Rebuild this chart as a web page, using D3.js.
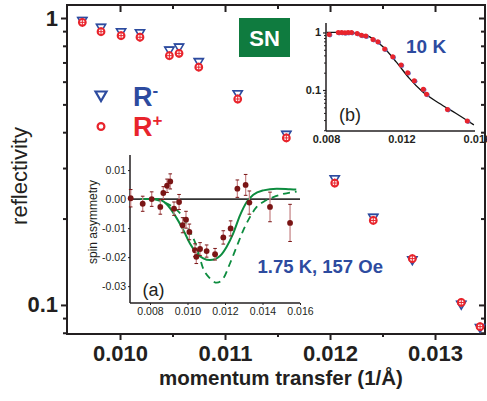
<!DOCTYPE html>
<html><head><meta charset="utf-8">
<script src="https://cdn.jsdelivr.net/npm/d3@7"></script>
<style>body{margin:0;background:#fff;} svg{display:block;font-family:"Liberation Sans",Arial,sans-serif;}</style>
</head><body><svg id="c" width="487" height="401"></svg>
<script>
// ---- main panel data (SN) ----
const q = [0.009641,0.009819,0.010010,0.010190,0.010470,0.010562,0.010750,0.011121,0.011584,0.012045,0.012412,0.012784,0.013250,0.013429];
const rMinus = [0.976,0.923,0.891,0.884,0.769,0.788,0.701,0.542,0.391,0.274,0.201,0.143,0.100,0.083];
const rPlus  = [0.966,0.896,0.868,0.857,0.739,0.753,0.674,0.522,0.382,0.266,0.197,0.145,0.102,0.084];
const mainXTicks = [0.010,0.011,0.012,0.013];
const mainXMinor = [0.0105,0.0115,0.0125];
const mainYTicks = [1,0.1];
const mainYMinor = [0.08,0.09,0.2,0.3,0.4,0.5,0.6,0.7,0.8,0.9];
const mainYLabels = ["1","0.1"];

// ---- inset (b) data, 10 K ----
const bQ = [0.00817,0.00865,0.00883,0.00900,0.00917,0.00935,0.00965,0.00988,0.01011,0.01049,0.01075,0.01111,0.01154,0.01198,0.01233,0.01268,0.01316,0.01333,0.01444,0.01549];
const bR = [0.923,1.0,1.0,0.987,1.0,1.0,0.96,0.89,0.864,0.756,0.687,0.514,0.378,0.271,0.2,0.145,0.103,0.084,0.046,0.029];
const bFitQ = [0.00804,0.0089,0.00962,0.01032,0.01102,0.01172,0.01242,0.01312,0.01400,0.01488,0.01584];
const bFitR = [1.0,1.0,0.96,0.839,0.563,0.309,0.159,0.093,0.059,0.0395,0.0248];
const bXTicks = [0.008,0.012,0.016];
const bYTicks = [1,0.1];
const bYLabels = ["1","0.1"];

// ---- inset (a) data, spin asymmetry at 1.75 K, 157 Oe ----
const aQ = [0.00697,0.00761,0.00809,0.00855,0.00871,0.00891,0.00908,0.00928,0.00955,0.00974,0.00992,0.01010,0.01040,0.01047,0.01067,0.01102,0.01147,0.01191,0.01230,0.01266,0.01310,0.01330,0.01440,0.01547];
const aSA = [0.0003,-0.0016,0.0,-0.0027,0.0021,0.0046,0.0061,-0.0033,-0.001,-0.009,-0.0071,-0.0113,-0.0176,-0.0199,-0.0172,-0.0179,-0.019,-0.0132,-0.0101,0.0036,0.0049,-0.0012,-0.0027,-0.0082];
const aErr = [0.003,0.0026,0.0025,0.0025,0.0022,0.0023,0.0026,0.0023,0.0026,0.0026,0.0029,0.0027,0.0022,0.0023,0.0022,0.0021,0.002,0.0023,0.0026,0.003,0.0036,0.004,0.0051,0.0064];
const fitSolidQ = [0.0075,0.00836,0.00889,0.00933,0.00978,0.01013,0.01049,0.01084,0.0112,0.01173,0.01209,0.01244,0.0128,0.01316,0.01351,0.01404,0.01476,0.01547,0.0158];
const fitSolidSA = [0,0,-0.0018,-0.0056,-0.0107,-0.0153,-0.0187,-0.0204,-0.021,-0.0196,-0.0164,-0.0118,-0.0056,-0.001,0.0015,0.003,0.0036,0.0034,0.0033];
const fitDashQ = [0.00818,0.00916,0.00969,0.0101,0.01049,0.01084,0.0112,0.01156,0.01191,0.01227,0.01262,0.01298,0.01333,0.01369,0.01404,0.01458,0.01511,0.01582];
const fitDashSA = [0,-0.0025,-0.0056,-0.0107,-0.0164,-0.0240,-0.0273,-0.0288,-0.0273,-0.0221,-0.0164,-0.0107,-0.0062,-0.0027,-0.001,0.0007,0.0018,0.0026];
const aXTicks = [0.008,0.010,0.012,0.014,0.016];
const aYTicks = [0.01,0,-0.01,-0.02,-0.03];
const aYLabels = ["0.01","0.00","-0.01","-0.02","-0.03"];

const BLUE="#2d4b9f", RED="#e8242c", GREEN="#0d8c3f", DARK="#7a1515", PINK="#c98a8c", INK="#231f20";
const svg = d3.select("#c");

// ================= MAIN PANEL =================
const M = {l:67, r:485, t:5, b:334};
const x = d3.scaleLinear().domain([0.009495, 0.013476]).range([M.l, M.r]);
const y = d3.scaleLog().domain([0.0792, 1.110]).range([M.b, M.t]);

function styleAxis(g, w){ g.select(".domain").remove(); g.selectAll("line").attr("stroke",INK).attr("stroke-width",w); }
const fmt3 = d3.format(".3f");
// bottom
let g = svg.append("g").attr("transform",`translate(0,${M.b})`).call(d3.axisBottom(x).tickValues(mainXTicks).tickSize(6).tickPadding(5).tickFormat(fmt3));
styleAxis(g,2); g.selectAll("text").attr("font-size",22).attr("font-weight","bold").attr("fill",INK);
g = svg.append("g").attr("transform",`translate(0,${M.b})`).call(d3.axisBottom(x).tickValues(mainXMinor).tickSize(3).tickFormat(""));
styleAxis(g,2);
// top (inward)
g = svg.append("g").attr("transform",`translate(0,${M.t})`).call(d3.axisBottom(x).tickValues(mainXTicks).tickSize(7).tickFormat(""));
styleAxis(g,2);
g = svg.append("g").attr("transform",`translate(0,${M.t})`).call(d3.axisBottom(x).tickValues(mainXMinor).tickSize(4).tickFormat(""));
styleAxis(g,2);
// left
g = svg.append("g").attr("transform",`translate(${M.l},0)`).call(d3.axisLeft(y).tickValues(mainYTicks).tickSize(6).tickPadding(3).tickFormat((d,i)=>mainYLabels[i]));
styleAxis(g,2); g.selectAll("text").attr("font-size",22).attr("font-weight","bold").attr("fill",INK);
g = svg.append("g").attr("transform",`translate(${M.l},0)`).call(d3.axisLeft(y).tickValues(mainYMinor).tickSize(4).tickFormat(""));
styleAxis(g,2);
// right (inward)
g = svg.append("g").attr("transform",`translate(${M.r},0)`).call(d3.axisLeft(y).tickValues(mainYTicks).tickSize(6).tickFormat(""));
styleAxis(g,2);
g = svg.append("g").attr("transform",`translate(${M.r},0)`).call(d3.axisLeft(y).tickValues(mainYMinor).tickSize(4).tickFormat(""));
styleAxis(g,2);
// frame
svg.append("rect").attr("x",M.l).attr("y",M.t).attr("width",M.r-M.l).attr("height",M.b-M.t)
  .attr("fill","none").attr("stroke",INK).attr("stroke-width",2);

// axis titles
svg.append("text").attr("x",281).attr("y",385).attr("text-anchor","middle")
  .attr("font-size",20.5).attr("font-weight","bold").attr("fill",INK).text("momentum transfer (1/Å)");
svg.append("text").attr("transform","translate(27,176) rotate(-90)").attr("text-anchor","middle")
  .attr("font-size",22).attr("fill",INK).text("reflectivity");

// markers
const triPath = "M-4.6,-3.6L4.6,-3.6L0,4.2Z";
const mains = svg.append("g");
q.forEach((qq,i)=>{
  const gx = x(qq), gy = y(rMinus[i]);
  mains.append("path").attr("d",triPath).attr("transform",`translate(${gx},${gy})`)
    .attr("fill","#fff").attr("stroke",BLUE).attr("stroke-width",1.6);
  mains.append("line").attr("x1",gx-5).attr("x2",gx+5).attr("y1",gy-3.6).attr("y2",gy-3.6).attr("stroke",BLUE).attr("stroke-width",1.2);
});
q.forEach((qq,i)=>{
  const gx = x(qq), gy = y(rPlus[i]);
  mains.append("circle").attr("cx",gx).attr("cy",gy).attr("r",3.4).attr("fill","#fff").attr("stroke",RED).attr("stroke-width",2);
  mains.append("line").attr("x1",gx-3.4).attr("x2",gx+3.4).attr("y1",gy).attr("y2",gy).attr("stroke",RED).attr("stroke-width",1);
  mains.append("line").attr("x1",gx).attr("x2",gx).attr("y1",gy-4.5).attr("y2",gy+4.5).attr("stroke",RED).attr("stroke-width",1);
});

// legend
svg.append("path").attr("d","M-5.5,-4.5L5.5,-4.5L0,5Z").attr("transform","translate(101,96)")
  .attr("fill","#fff").attr("stroke",BLUE).attr("stroke-width",2.2);
svg.append("circle").attr("cx",101).attr("cy",126.5).attr("r",3.4).attr("fill","#fff").attr("stroke",RED).attr("stroke-width",2.2);
let t = svg.append("text").attr("x",133).attr("y",105.5).attr("font-size",27).attr("font-weight","bold").attr("fill",BLUE);
t.append("tspan").text("R");
t.append("tspan").attr("font-size",17).attr("dy",-10).text("-");
t = svg.append("text").attr("x",133).attr("y",135.5).attr("font-size",27).attr("font-weight","bold").attr("fill",RED);
t.append("tspan").text("R");
t.append("tspan").attr("font-size",17).attr("dy",-10).text("+");

// SN box
svg.append("rect").attr("x",239).attr("y",18).attr("width",51).attr("height",39).attr("fill","#0f7b3f");
svg.append("text").attr("x",264.5).attr("y",46).attr("text-anchor","middle").attr("font-size",22)
  .attr("font-weight","bold").attr("fill","#fff").text("SN");

// ================= INSET (b) =================
const B = {l:326, r:475, t:23, b:131};
const bx = d3.scaleLinear().domain([0.008, 0.0159]).range([B.l, B.r]);
const by = d3.scaleLog().domain([0.0194, 1.46]).range([B.b, B.t]);
g = svg.append("g").attr("transform",`translate(0,${B.b})`).call(d3.axisBottom(bx).tickValues(bXTicks).tickSize(0).tickPadding(4).tickFormat(fmt3));
styleAxis(g,1.2); g.selectAll("text").attr("font-size",11).attr("font-weight","bold").attr("fill",INK);
g = svg.append("g").attr("transform",`translate(${B.l},0)`).call(d3.axisLeft(by).tickValues(bYTicks).tickSize(3).tickPadding(2).tickFormat((d,i)=>bYLabels[i]));
styleAxis(g,1.2); g.selectAll("text").attr("font-size",11).attr("font-weight","bold").attr("fill",INK);
g = svg.append("g").attr("transform",`translate(${B.l},0)`).call(d3.axisLeft(by).tickValues([0.02,0.03,0.04,0.05,0.06,0.07,0.08,0.09,0.2,0.3,0.4,0.5,0.6,0.7,0.8,0.9]).tickSize(2).tickFormat(""));
styleAxis(g,1);
svg.append("line").attr("x1",B.l).attr("x2",B.l).attr("y1",B.t).attr("y2",B.b).attr("stroke",INK).attr("stroke-width",1.5);
svg.append("line").attr("x1",B.l).attr("x2",B.r).attr("y1",B.b).attr("y2",B.b).attr("stroke",INK).attr("stroke-width",1.5);
svg.append("path").datum(bFitQ.map((d,i)=>[d,bFitR[i]]))
  .attr("d",d3.line().x(d=>bx(d[0])).y(d=>by(d[1])).curve(d3.curveMonotoneX))
  .attr("fill","none").attr("stroke","#111").attr("stroke-width",1.3);
bQ.forEach((qq,i)=>{
  svg.append("circle").attr("cx",bx(qq)+0.8).attr("cy",by(bR[i])+0.6).attr("r",2.4).attr("fill","#6a6fc0");
  svg.append("circle").attr("cx",bx(qq)).attr("cy",by(bR[i])).attr("r",2.5).attr("fill",RED);
});
svg.append("text").attr("x",406).attr("y",52.5).attr("font-size",19).attr("font-weight","bold").attr("fill",BLUE).text("10 K");
svg.append("text").attr("x",339).attr("y",121).attr("font-size",18).attr("fill",INK).text("(b)");

// ================= INSET (a) =================
const A = {l:130, r:300, t:155, b:303};
const ax = d3.scaleLinear().domain([0.006933, 0.016]).range([A.l, A.r]);
const ay = d3.scaleLinear().domain([-0.0358, 0.0152]).range([A.b, A.t]);
g = svg.append("g").attr("transform",`translate(0,${A.b})`).call(d3.axisBottom(ax).tickValues(aXTicks).tickSize(2).tickPadding(3).tickFormat(fmt3));
styleAxis(g,1); g.selectAll("text").attr("font-size",10.5).attr("fill",INK);
g = svg.append("g").attr("transform",`translate(${A.l},0)`).call(d3.axisLeft(ay).tickValues(aYTicks).tickSize(2).tickPadding(2).tickFormat((d,i)=>aYLabels[i]));
styleAxis(g,1); g.selectAll("text").attr("font-size",10.5).attr("fill",INK);
svg.append("line").attr("x1",A.l).attr("x2",A.l).attr("y1",A.t).attr("y2",A.b).attr("stroke",INK).attr("stroke-width",1.5);
svg.append("line").attr("x1",A.l).attr("x2",A.r).attr("y1",A.b).attr("y2",A.b).attr("stroke",INK).attr("stroke-width",1.5);
svg.append("line").attr("x1",A.l).attr("x2",A.r).attr("y1",ay(0)).attr("y2",ay(0)).attr("stroke","#333").attr("stroke-width",1.8);
svg.append("text").attr("transform","translate(97,222) rotate(-90)").attr("text-anchor","middle")
  .attr("font-size",12).attr("fill",INK).text("spin asymmetry");

const aline = d3.line().x(d=>ax(d[0])).y(d=>ay(d[1])).curve(d3.curveMonotoneX);
svg.append("path").datum(fitDashQ.map((d,i)=>[d,fitDashSA[i]])).attr("d",aline)
  .attr("fill","none").attr("stroke",GREEN).attr("stroke-width",1.8).attr("stroke-dasharray","7,5");
svg.append("path").datum(fitSolidQ.map((d,i)=>[d,fitSolidSA[i]])).attr("d",aline)
  .attr("fill","none").attr("stroke",GREEN).attr("stroke-width",2);
aQ.forEach((qq,i)=>{
  const cx = ax(qq), y1 = ay(aSA[i]-aErr[i]), y2 = ay(aSA[i]+aErr[i]);
  svg.append("line").attr("x1",cx).attr("x2",cx).attr("y1",y1).attr("y2",y2).attr("stroke",PINK).attr("stroke-width",1.3);
  svg.append("line").attr("x1",cx-1.8).attr("x2",cx+1.8).attr("y1",y1).attr("y2",y1).attr("stroke",DARK).attr("stroke-width",1);
  svg.append("line").attr("x1",cx-1.8).attr("x2",cx+1.8).attr("y1",y2).attr("y2",y2).attr("stroke",DARK).attr("stroke-width",1);
  svg.append("circle").attr("cx",cx).attr("cy",ay(aSA[i])).attr("r",2.9).attr("fill",DARK);
});
svg.append("text").attr("x",142.5).attr("y",296).attr("font-size",18).attr("fill",INK).text("(a)");
svg.append("text").attr("x",257.5).attr("y",273).attr("font-size",18.5).attr("font-weight","bold").attr("fill",BLUE).text("1.75 K, 157 Oe");
</script></body></html>
